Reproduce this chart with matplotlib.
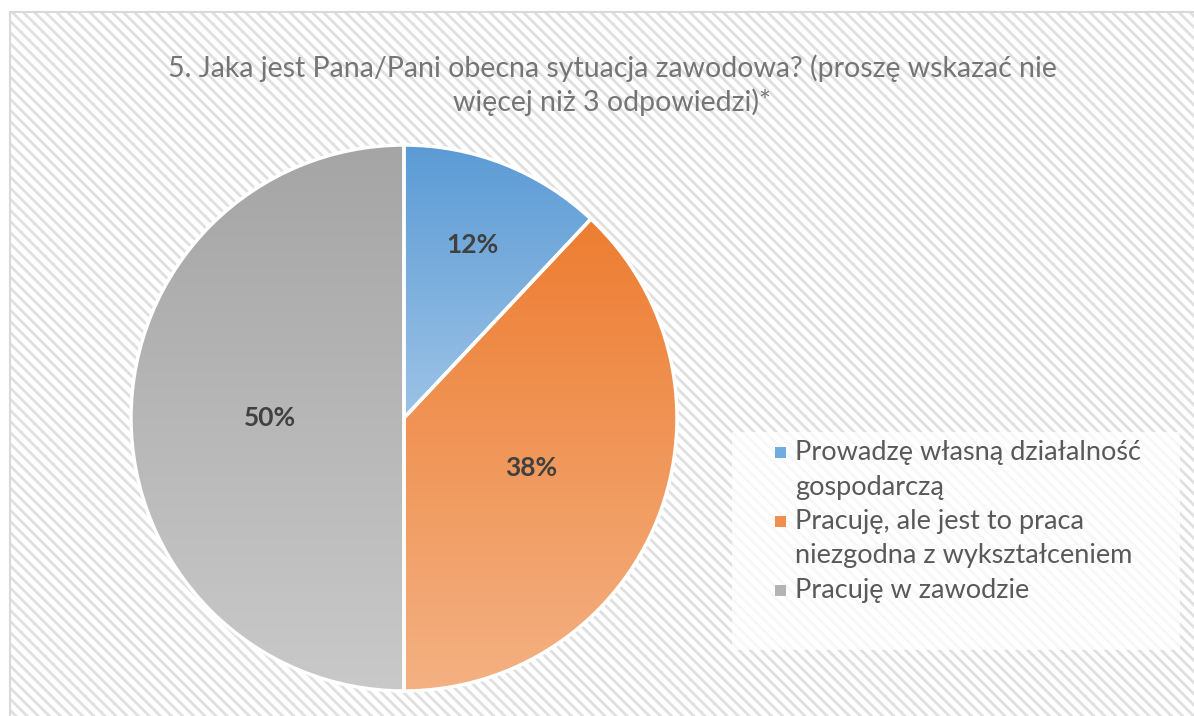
import numpy as np
import matplotlib
matplotlib.use("Agg")
import matplotlib.pyplot as plt
from matplotlib.patches import Rectangle
from matplotlib.colors import LinearSegmentedColormap

# dane
categories = ["Prowadzę własną działalność\ngospodarczą",
              "Pracuję, ale jest to praca\nniezgodna z wykształceniem",
              "Pracuję w zawodzie"]
shares = [12, 38, 50]
title = "5. Jaka jest Pana/Pani obecna sytuacja zawodowa? (proszę wskazać nie\nwięcej niż 3 odpowiedzi)*"

# kolory gradientu (góra -> dół)
grad_top = ["#5B9BD5", "#ED7D31", "#A5A5A5"]
grad_bottom = ["#9DC3E6", "#F4B183", "#C9C9C9"]
label_r = [0.68, 0.50, 0.49]

plt.rcParams['font.family'] = ['Lato', 'DejaVu Sans']
plt.rcParams['hatch.linewidth'] = 2.0

W, H = 1194, 716
fig = plt.figure(figsize=(W / 100, H / 100), dpi=100)
ax = fig.add_axes([0, 0, 1, 1])

# wykres kołowy
cx, cy, R = 404, 716 - 418, 273
wedges, _ = ax.pie(shares, center=(cx, cy), radius=R, startangle=90,
                   counterclock=False, frame=True,
                   wedgeprops=dict(facecolor="none", edgecolor="white", linewidth=2.5, zorder=3))
ax.set_xlim(0, W)
ax.set_ylim(0, H)
ax.set_aspect("auto")
ax.set_axis_off()

# tło wykresu z kreskowaniem
ax.add_patch(Rectangle((10, -5), W, H - 12 + 5, facecolor="white",
                       edgecolor="#E0E0E0", hatch="\\\\\\", linewidth=0, zorder=0))
ax.add_patch(Rectangle((10, -5), W, H - 12 + 5, facecolor="none",
                       edgecolor="#D9D9D9", linewidth=1.5, zorder=0.5))

for w, c0, c1 in zip(wedges, grad_top, grad_bottom):
    ext = w.get_path().get_extents()
    cmap = LinearSegmentedColormap.from_list("g", [c1, c0])
    grad = np.linspace(0, 1, 256).reshape(-1, 1)
    im = ax.imshow(grad, cmap=cmap, origin="lower", aspect="auto",
                   extent=[ext.x0, ext.x1, ext.y0, ext.y1], zorder=2)
    im.set_clip_path(w)

# etykiety procentowe
start = 90
for s, r in zip(shares, label_r):
    mid = np.deg2rad(start - s / 2 * 3.6)
    ax.text(cx + r * R * np.cos(mid), cy + r * R * np.sin(mid), f"{s}%",
            ha="center", va="center", fontsize=19, fontweight="bold",
            color="#404040", zorder=4)
    start -= s * 3.6

# tytuł
ax.text(612, H - 85, title, ha="center", va="center", fontsize=20.5,
        color="#757575", linespacing=1.3, zorder=4)

# legenda
ax.add_patch(Rectangle((732, H - 650), 448, 218, facecolor="white",
                       edgecolor="none", alpha=0.75, zorder=3))
mid_cols = ["#72ABDD", "#F08E4F", "#B3B3B3"]
line_h = 34.5
y = H - 452
for lab, col in zip(categories, mid_cols):
    ax.add_patch(Rectangle((775, y - 5.5), 11, 11, facecolor=col,
                           edgecolor="none", zorder=4))
    for line in lab.split("\n"):
        ax.text(795, y - 8, line, ha="left", va="baseline", fontsize=19.5,
                color="#595959", zorder=4)
        y -= line_h

fig.savefig("out.png", dpi=100)
